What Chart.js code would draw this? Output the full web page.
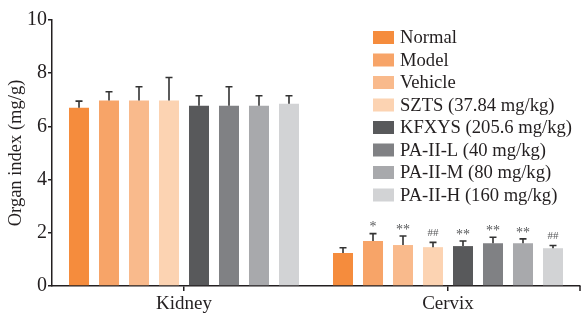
<!DOCTYPE html>
<html>
<head>
<meta charset="utf-8">
<script src="https://cdn.jsdelivr.net/npm/chart.js@4/dist/chart.umd.min.js"></script>
<style>
html,body{margin:0;padding:0;background:#fff;}
#wrap{width:583px;height:317px;position:relative;}
</style>
</head>
<body>
<div id="wrap"><canvas id="c" width="583" height="317"></canvas></div>
<script>
const categories = ['Kidney', 'Cervix'];
const seriesNames = ['Normal', 'Model', 'Vehicle', 'SZTS (37.84 mg/kg)', 'KFXYS (205.6 mg/kg)', 'PA-II-L (40 mg/kg)', 'PA-II-M (80 mg/kg)', 'PA-II-H (160 mg/kg)'];
const seriesColors = ['#F58C3D', '#F7A468', '#F9BA8C', '#FCD3B2', '#58595B', '#808184', '#A8A9AC', '#D2D3D5'];
const kidneyValues = [6.70, 6.97, 6.97, 6.97, 6.78, 6.78, 6.78, 6.85];
const kidneySD     = [0.25, 0.33, 0.52, 0.87, 0.37, 0.71, 0.37, 0.30];
const cervixValues = [1.24, 1.69, 1.54, 1.46, 1.50, 1.61, 1.61, 1.42];
const cervixSD     = [0.20, 0.28, 0.34, 0.18, 0.19, 0.22, 0.16, 0.10];
const cervixMarks  = ['', '*', '**', '##', '**', '**', '**', '##'];
const yTicks = [0, 2, 4, 6, 8, 10];

const FONT = "'Liberation Serif', 'Times New Roman', serif";
const AX = '#231F20';

const datasets = seriesNames.map((name, i) => ({
  label: name,
  data: [kidneyValues[i], cervixValues[i]],
  sd: [kidneySD[i], cervixSD[i]],
  marks: ['', cervixMarks[i]],
  backgroundColor: seriesColors[i],
  borderWidth: 0,
  categoryPercentage: 0.909,
  barPercentage: 0.667
}));

const extras = {
  id: 'extras',
  afterDatasetsDraw(chart) {
    const ctx = chart.ctx;
    const y = chart.scales.y;
    ctx.save();
    chart.data.datasets.forEach((ds, i) => {
      const meta = chart.getDatasetMeta(i);
      meta.data.forEach((bar, j) => {
        const top = y.getPixelForValue(ds.data[j] + ds.sd[j]);
        ctx.strokeStyle = '#333';
        ctx.lineWidth = 1.6;
        ctx.beginPath();
        ctx.moveTo(bar.x, bar.y);
        ctx.lineTo(bar.x, top);
        ctx.moveTo(bar.x - 3.5, top);
        ctx.lineTo(bar.x + 3.5, top);
        ctx.stroke();
        const m = ds.marks[j];
        if (m) {
          const hash = m.indexOf('#') >= 0;
          ctx.fillStyle = '#58595B';
          ctx.textAlign = 'center';
          ctx.textBaseline = 'middle';
          ctx.font = (hash ? '11px ' : '14px ') + FONT;
          ctx.fillText(m, bar.x, top - (hash ? 9 : 6));
        }
      });
    });
    // right end tick of x axis
    const ca = chart.chartArea;
    ctx.strokeStyle = AX;
    ctx.lineWidth = 1.5;
    ctx.beginPath();
    ctx.moveTo(ca.right, ca.bottom);
    ctx.lineTo(ca.right, ca.bottom + 5);
    ctx.stroke();
    // legend
    ctx.font = '18.6px ' + FONT;
    ctx.textAlign = 'left';
    ctx.textBaseline = 'middle';
    chart.data.datasets.forEach((ds, i) => {
      const cy = 37.5 + i * 22.5;
      ctx.fillStyle = ds.backgroundColor;
      ctx.fillRect(373, cy - 6.5, 21, 13);
      ctx.fillStyle = '#231F20';
      ctx.fillText(ds.label, 400, cy + 1);
    });
    ctx.restore();
  }
};

new Chart(document.getElementById('c'), {
  type: 'bar',
  data: { labels: categories, datasets },
  options: {
    responsive: false,
    animation: false,
    layout: { padding: { top: 20, right: 3, left: 0, bottom: 0 } },
    plugins: { legend: { display: false }, tooltip: { enabled: false } },
    scales: {
      x: {
        grid: { display: true, drawOnChartArea: false, offset: false, tickLength: 5, color: AX, lineWidth: 1.5 },
        border: { color: AX, width: 1.5 },
        ticks: { color: '#231F20', font: { family: FONT, size: 19 }, padding: 2 },
        afterFit(s) { s.height = 31; }
      },
      y: {
        min: 0, max: 10,
        afterBuildTicks(s) { s.ticks = yTicks.map(v => ({ value: v })); },
        grid: { display: true, drawOnChartArea: false, tickLength: 4, color: AX, lineWidth: 1.5 },
        border: { color: AX, width: 1.5 },
        ticks: { color: '#231F20', font: { family: FONT, size: 20 }, padding: 1 },
        title: { display: true, text: 'Organ index (mg/g)', color: '#231F20', font: { family: FONT, size: 18.5 }, padding: { top: 5, bottom: 0 } },
        afterFit(s) { s.width = 52; }
      }
    }
  },
  plugins: [extras]
});
</script>
</body>
</html>
